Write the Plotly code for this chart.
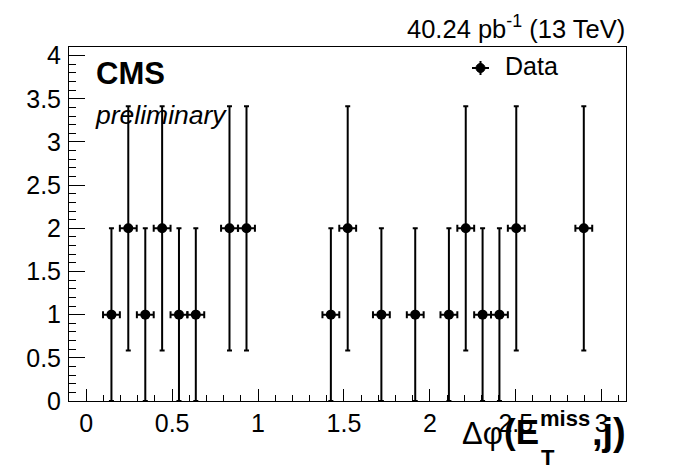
import plotly.graph_objects as go

# ---- data (bin centres of a 32-bin histogram on [0, pi]) ----
x_centers = [0.147, 0.245, 0.344, 0.442, 0.540, 0.638, 0.834, 0.933,
             1.424, 1.522, 1.718, 1.915, 2.111, 2.209, 2.307, 2.405,
             2.503, 2.896]
counts = [1, 2, 1, 2, 1, 1, 2, 2, 1, 2, 1, 1, 1, 2, 1, 1, 2, 2]
y_errors = [1.0, 1.414, 1.0, 1.414, 1.0, 1.0, 1.414, 1.414, 1.0, 1.414,
            1.0, 1.0, 1.0, 1.414, 1.0, 1.0, 1.414, 1.414]
x_halfwidth = [0.049] * len(x_centers)

x_ticks = [0, 0.5, 1, 1.5, 2, 2.5, 3]
x_ticklabels = ["0", "0.5", "1", "1.5", "2", "2.5", "3"]
y_ticks = [0, 0.5, 1, 1.5, 2, 2.5, 3, 3.5, 4]
y_ticklabels = ["0", "0.5", "1", "1.5", "2", "2.5", "3", "3.5", "4"]

# ---- layout geometry (pixels) ----
W, H = 696, 472
PL, PR, PT, PB = 69, 626, 47, 401
FONT = "Liberation Sans, Arial, Helvetica, sans-serif"


def px(xp):
    return (xp - PL) / (PR - PL)


def py(yp):
    return (PB - yp) / (PB - PT)


fig = go.Figure()
fig.add_trace(go.Scatter(
    x=x_centers, y=counts, mode="markers",
    marker=dict(color="black", size=10),
    error_y=dict(type="data", array=y_errors, color="black", thickness=2, width=2.5),
    error_x=dict(type="data", array=x_halfwidth, color="black", thickness=2, width=3.5),
    showlegend=False,
))

annotations = [
    dict(text="<b>CMS</b>", x=px(94), y=py(73), xanchor="left", yanchor="middle",
         font=dict(size=31, family=FONT, color="black")),
    dict(text="<i>preliminary</i>", x=px(93), y=py(115), xanchor="left", yanchor="middle",
         font=dict(size=26.5, family=FONT, color="black")),
    dict(text="40.24 pb<sup>-1</sup> (13 TeV)", x=px(627), y=py(27), xanchor="right",
         yanchor="middle", font=dict(size=25.5, family=FONT, color="black")),
    dict(text="Data", x=px(503), y=py(66), xanchor="left", yanchor="middle",
         font=dict(size=25, family=FONT, color="black")),
    # x-axis title pieces
    dict(text="Δφ", x=px(505), y=py(433), xanchor="right", yanchor="middle",
         font=dict(size=31, family=FONT, color="black")),
    dict(text="<b>(E</b>", x=px(541), y=py(432), xanchor="right", yanchor="middle",
         font=dict(size=35, family=FONT, color="black")),
    dict(text="<b>miss</b>", x=px(538), y=py(418), xanchor="left", yanchor="middle",
         font=dict(size=22, family=FONT, color="black")),
    dict(text="<b>T</b>", x=px(539), y=py(457), xanchor="left", yanchor="middle",
         font=dict(size=22, family=FONT, color="black")),
    dict(text="<b>,j)</b>", x=px(628), y=py(432), xanchor="right", yanchor="middle",
         font=dict(size=38, family=FONT, color="black")),
]
for a in annotations:
    a.update(xref="paper", yref="paper", showarrow=False)

shapes = [
    dict(type="line", x0=px(472), x1=px(489), y0=py(68), y1=py(68),
         line=dict(color="black", width=2)),
    dict(type="line", x0=px(480.5), x1=px(480.5), y0=py(61), y1=py(75),
         line=dict(color="black", width=2)),
    dict(type="circle", x0=px(476), x1=px(485), y0=py(63.5), y1=py(72.5),
         fillcolor="black", line=dict(color="black", width=1)),
]
for s in shapes:
    s.update(xref="paper", yref="paper")

fig.update_layout(
    width=W, height=H,
    margin=dict(l=PL, r=W - PR, t=PT, b=H - PB, pad=0),
    paper_bgcolor="white", plot_bgcolor="white",
    font=dict(family=FONT, color="black"),
    annotations=annotations, shapes=shapes,
    showlegend=False,
)
fig.update_xaxes(
    range=[-0.1, 3.1416], tickvals=x_ticks, ticktext=x_ticklabels,
    ticks="inside", ticklen=12, tickwidth=1, tickcolor="black",
    minor=dict(dtick=0.1, tick0=0, ticks="inside", ticklen=6, tickwidth=1, tickcolor="black"),
    showline=True, mirror=True, linecolor="black", linewidth=1,
    showgrid=False, zeroline=False, tickfont=dict(size=25, family=FONT, color="black"),
)
fig.update_yaxes(
    range=[0, 4.1], tickvals=y_ticks, ticktext=y_ticklabels,
    ticks="inside", ticklen=16, tickwidth=1, tickcolor="black",
    minor=dict(dtick=0.1, tick0=0, ticks="inside", ticklen=7, tickwidth=1, tickcolor="black"),
    showline=True, mirror=True, linecolor="black", linewidth=1,
    showgrid=False, zeroline=False, tickfont=dict(size=25, family=FONT, color="black"),
    ticklabelstandoff=2,
)

fig.write_html("out.html", config={"displayModeBar": False},
               post_script="document.body.style.margin='0';document.body.style.padding='0';")
